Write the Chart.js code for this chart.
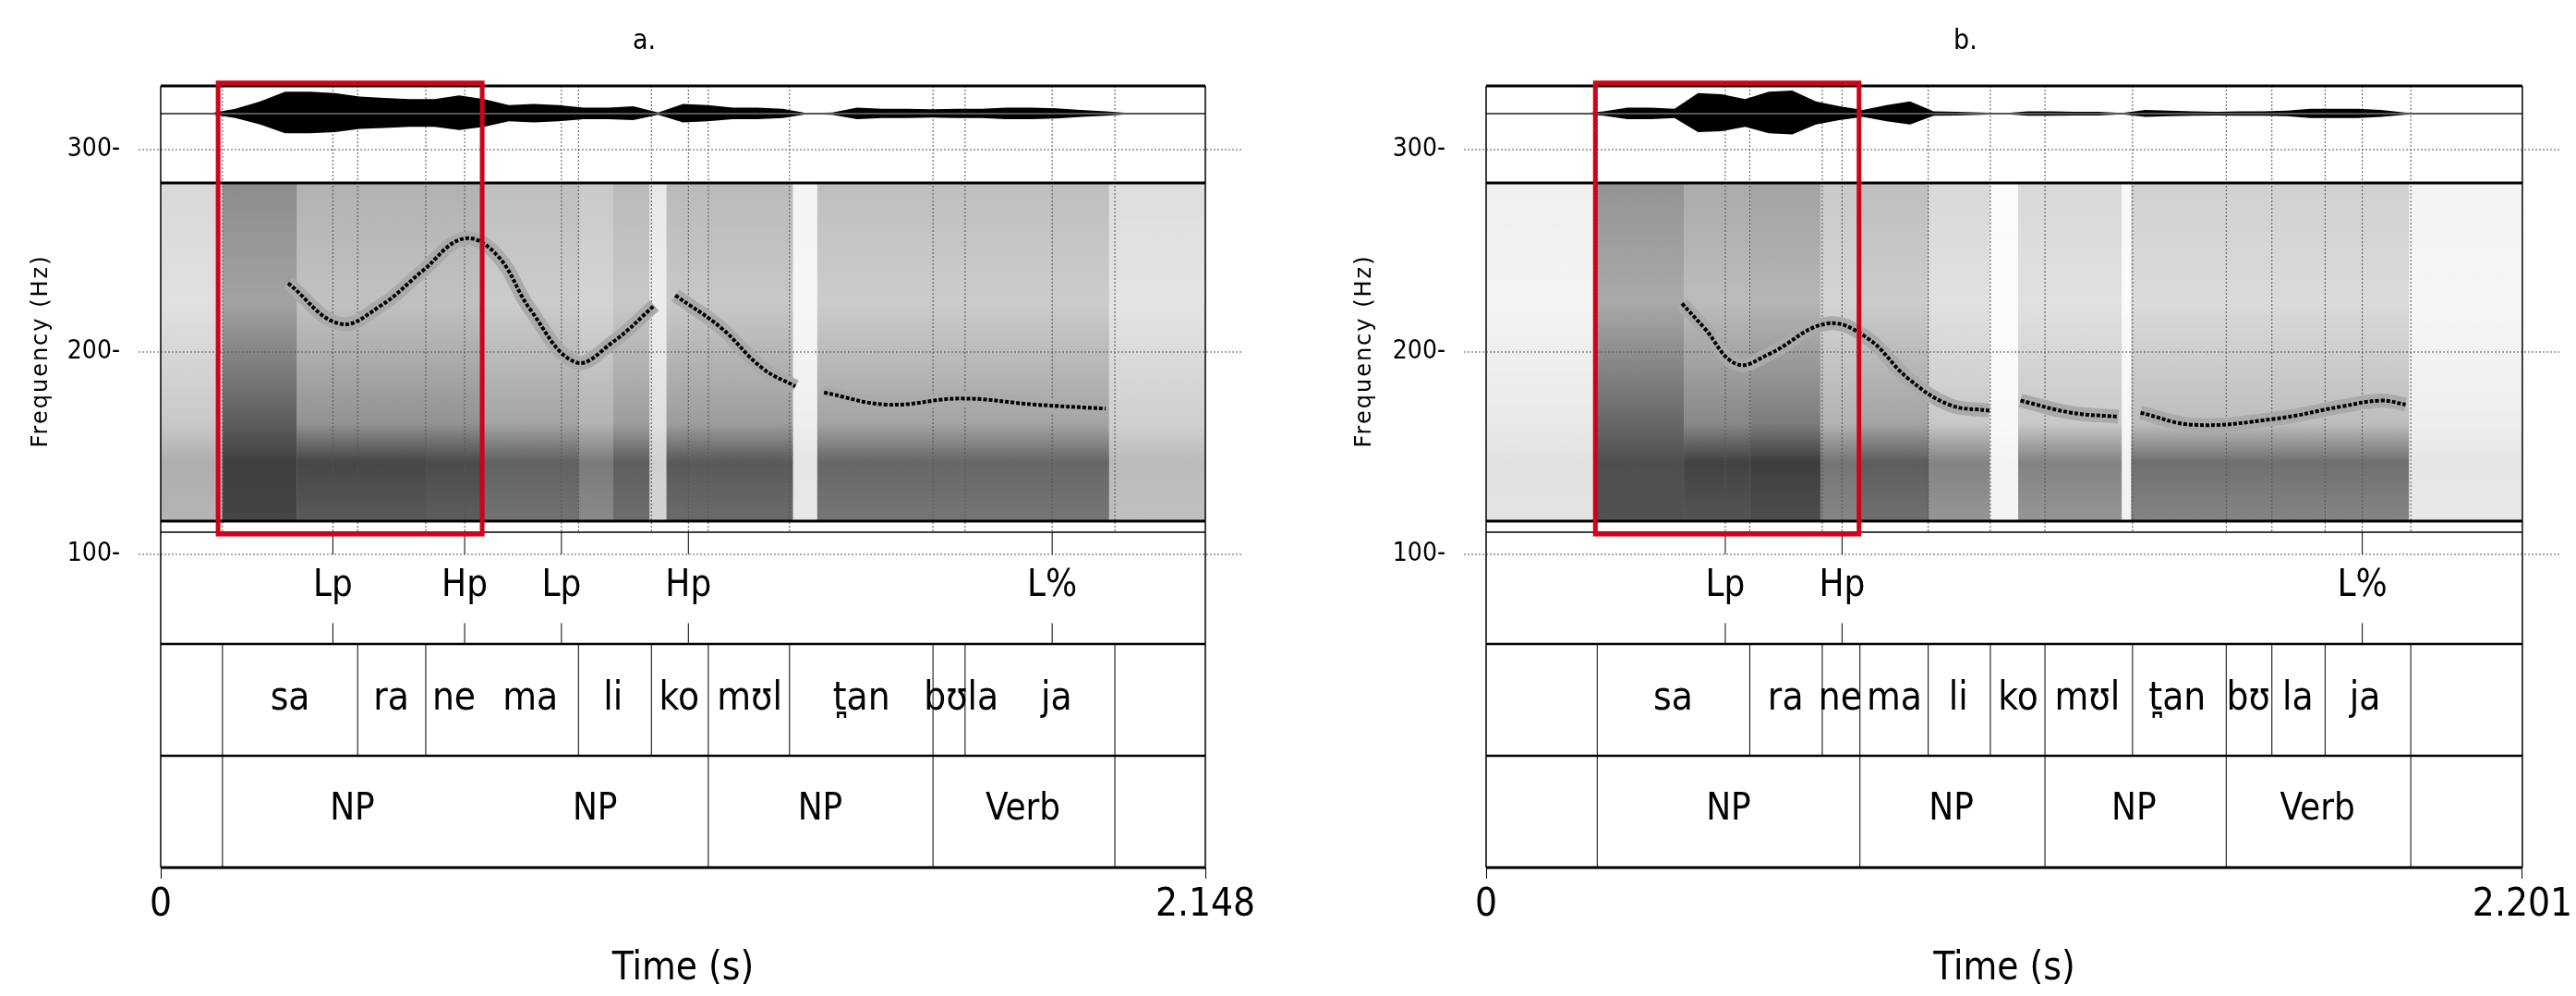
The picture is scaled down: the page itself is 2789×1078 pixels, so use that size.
<!DOCTYPE html>
<html><head><meta charset="utf-8">
<script src="https://cdn.jsdelivr.net/npm/chart.js@4"></script>
<style>body{margin:0;background:#fff;width:2789px;height:1078px;overflow:hidden}
canvas{position:absolute;top:0}</style></head><body>
<canvas id="ca" width="1394" height="1078" style="left:0"></canvas>
<canvas id="cb" width="1395" height="1078" style="left:1394px"></canvas>
<script>
const FONT="'Liberation Sans Narrow','DejaVu Sans Condensed','Liberation Sans',Arial,sans-serif";
// ---------- Panel a data ----------
const aDur=2.148;
const aPitchT=[0.262,0.368,0.453,0.538,0.623,0.691,0.760,0.853,0.930,1.015,1.020,1.058,1.152,1.237,1.305,1.320,1.364,1.493,1.645,1.799,1.943];
const aPitchHz=[234,214,223,240,256,248,221,195,205,223,null,228,212,192,183,null,180,174,177,174,172];
const aTones=["Lp","Hp","Lp","Hp","L%"];
const aToneT=[0.354,0.625,0.824,1.085,1.833];
const aSyl=["sa","ra","ne","ma","li","ko","mʊl","t̪an","bʊla","ja"];
const aSylT=[0.266,0.474,0.603,0.760,0.930,1.066,1.211,1.441,1.646,1.842];
const aSylBounds=[0.127,0.405,0.545,0.859,1.009,1.126,1.293,1.588,1.654,1.962];
const aPhr=["NP","NP","NP","Verb"];
const aPhrT=[0.394,0.893,1.356,1.773];
const aPhrBounds=[0.127,1.126,1.588,1.962];
const aWaveAmp=[0,0,0.02,0.2,0.5,0.9,0.9,0.85,0.7,0.65,0.6,0.6,0.75,0.6,0.35,0.4,0.35,0.25,0.25,0.3,0.05,0.4,0.35,0.25,0.25,0.2,0.02,0.05,0.25,0.2,0.2,0.18,0.2,0.2,0.25,0.25,0.22,0.15,0.1,0.02,0,0,0];
const aSpecT=[0,0.127,0.28,0.545,0.66,0.86,0.93,1.005,1.04,1.30,1.35,1.95,2.148];
const aSpecDark=[0.25,0.75,0.5,0.5,0.42,0.35,0.45,0.15,0.45,0.08,0.42,0.22];
const aSpecLow=[0.2,0.55,0.85,0.8,0.65,0.5,0.65,0.1,0.7,0.05,0.6,0.15];
const aBox=[0.118,0.661];
// ---------- Panel b data ----------
const bDur=2.201;
const bPitchT=[0.416,0.463,0.532,0.601,0.723,0.809,0.896,0.983,1.069,1.10,1.135,1.243,1.343,1.36,1.390,1.503,1.676,1.815,1.901,1.953];
const bPitchHz=[224,212,194,199,214,207,187,174,171,null,176,170,168,null,170,164,167,173,176,174];
const bTones=["Lp","Hp","L%"];
const bToneT=[0.508,0.756,1.861];
const bSyl=["sa","ra","ne","ma","li","ko","mʊl","t̪an","bʊ","la","ja"];
const bSylT=[0.397,0.636,0.752,0.867,1.003,1.130,1.277,1.468,1.619,1.724,1.867];
const bSylBounds=[0.236,0.560,0.714,0.794,0.939,1.071,1.187,1.373,1.572,1.669,1.782,1.964];
const bPhr=["NP","NP","NP","Verb"];
const bPhrT=[0.515,0.988,1.376,1.766];
const bPhrBounds=[0.236,0.794,1.187,1.572,1.964];
const bWaveAmp=[0,0,0,0,0,0.1,0.25,0.25,0.2,0.85,0.8,0.6,0.9,0.95,0.5,0.3,0.15,0.35,0.5,0.1,0.08,0.05,0.02,0.1,0.1,0.08,0.08,0.03,0.15,0.12,0.1,0.08,0.1,0.1,0.12,0.2,0.2,0.2,0.15,0.05,0,0,0,0,0];
const bSpecT=[0,0.23,0.42,0.56,0.71,0.79,0.94,1.07,1.13,1.35,1.37,1.96,2.201];
const bSpecDark=[0.1,0.7,0.55,0.6,0.35,0.42,0.25,0.03,0.25,0.04,0.3,0.08];
const bSpecLow=[0.05,0.4,0.85,0.85,0.55,0.7,0.55,0.03,0.55,0.03,0.65,0.05];
const bBox=[0.232,0.792];
// ---------- shared axis values (Hz units of the y scale) ----------
const yTicks=[100,200,300];
const Y={waveTop:331.5,waveMid:317.8,specTop:283.6,specBot:116.4,toneTop:111,toneBot:55.7,wordBot:0.46,phrBot:-54.8,
  toneLab:84,wordLab:28.3,phrLab:-26.5,boxTop:333,boxBot:110,waveScale:12,lowBand:165,toneMarkA:100,toneMarkB:66};

function makeChart(id,P){
  const ctxEl=document.getElementById(id);
  const pts=P.pt.map((t,i)=>({x:t,y:P.hz[i]}));
  const pts2=P.pt.map((t,i)=>({x:t,y:P.hz[i]}));
  const plug={id:'praat',
    beforeDatasetsDraw(c){
      const g=c.ctx,x=c.scales.x,y=c.scales.y,ca=c.chartArea;
      g.save();
      for(let i=0;i<P.specD.length;i++){
        const x0=x.getPixelForValue(P.specT[i]),x1=x.getPixelForValue(P.specT[i+1]);
        const yt=y.getPixelForValue(Y.specTop),yb=y.getPixelForValue(Y.specBot),yl=y.getPixelForValue(Y.lowBand);
        const gr=g.createLinearGradient(0,yt,0,yb);
        gr.addColorStop(0,`rgba(50,50,50,${P.specD[i]*0.75})`);
        gr.addColorStop(0.35,`rgba(50,50,50,${P.specD[i]*0.6})`);
        gr.addColorStop(0.7,`rgba(40,40,40,${P.specD[i]})`);
        gr.addColorStop(1,`rgba(30,30,30,${P.specD[i]})`);
        g.fillStyle=gr;g.fillRect(x0,yt,x1-x0,yb-yt);
        const gl=g.createLinearGradient(0,yl,0,yb);
        gl.addColorStop(0,`rgba(20,20,20,0)`);
        gl.addColorStop(0.4,`rgba(20,20,20,${P.specL[i]*0.7})`);
        gl.addColorStop(1,`rgba(20,20,20,${P.specL[i]*0.5})`);
        g.fillStyle=gl;g.fillRect(x0,yl,x1-x0,yb-yl);
      }
      g.setLineDash([2,2]);g.strokeStyle='#555';g.lineWidth=1;
      yTicks.forEach(v=>{const py=y.getPixelForValue(v);g.beginPath();g.moveTo(ca.left-24,py);g.lineTo(ca.right+40,py);g.stroke();});
      [...P.sb,...P.toneT].forEach(t=>{const px=x.getPixelForValue(t);g.beginPath();g.moveTo(px,y.getPixelForValue(Y.waveTop));g.lineTo(px,y.getPixelForValue(Y.toneTop));g.stroke();});
      g.setLineDash([]);
      g.fillStyle='#000';g.beginPath();
      const n=P.wave.length,step=P.dur/(n-1);
      for(let i=0;i<n;i++){g.lineTo(x.getPixelForValue(i*step),y.getPixelForValue(Y.waveMid+P.wave[i]*Y.waveScale));}
      for(let i=n-1;i>=0;i--){g.lineTo(x.getPixelForValue(i*step),y.getPixelForValue(Y.waveMid-P.wave[i]*Y.waveScale*0.9));}
      g.closePath();g.fill();
      g.lineWidth=2;g.beginPath();g.moveTo(ca.left,y.getPixelForValue(Y.waveMid));g.lineTo(ca.right,y.getPixelForValue(Y.waveMid));g.stroke();
      g.restore();
    },
    afterDatasetsDraw(c){
      const g=c.ctx,x=c.scales.x,y=c.scales.y,ca=c.chartArea;
      g.save();g.strokeStyle='#000';
      const hl=(v,w)=>{const py=y.getPixelForValue(v);g.lineWidth=w;g.beginPath();g.moveTo(ca.left,py);g.lineTo(ca.right,py);g.stroke();};
      hl(Y.waveTop,3);hl(Y.specTop,3);hl(Y.specBot,3);hl(Y.toneTop,1.5);hl(Y.toneBot,2.5);hl(Y.wordBot,2.5);hl(Y.phrBot,3);
      g.lineWidth=1.5;
      [ca.left,ca.right].forEach(px=>{g.beginPath();g.moveTo(px,y.getPixelForValue(Y.waveTop));g.lineTo(px,y.getPixelForValue(Y.phrBot));g.stroke();});
      g.lineWidth=1;
      P.sb.forEach(t=>{const px=x.getPixelForValue(t);g.beginPath();g.moveTo(px,y.getPixelForValue(Y.toneBot));g.lineTo(px,y.getPixelForValue(Y.wordBot));g.stroke();});
      P.pb.forEach(t=>{const px=x.getPixelForValue(t);g.beginPath();g.moveTo(px,y.getPixelForValue(Y.wordBot));g.lineTo(px,y.getPixelForValue(Y.phrBot));g.stroke();});
      P.toneT.forEach(t=>{const px=x.getPixelForValue(t);g.beginPath();g.moveTo(px,y.getPixelForValue(Y.toneTop));g.lineTo(px,y.getPixelForValue(Y.toneMarkA));
        g.moveTo(px,y.getPixelForValue(Y.toneMarkB));g.lineTo(px,y.getPixelForValue(Y.toneBot));g.stroke();});
      g.fillStyle='#000';g.textAlign='center';g.textBaseline='middle';g.font='40px '+FONT;
      P.tones.forEach((s,i)=>g.fillText(s,x.getPixelForValue(P.toneT[i]),y.getPixelForValue(Y.toneLab)));
      g.font='42px '+FONT;
      P.syl.forEach((s,i)=>g.fillText(s,x.getPixelForValue(P.sylT[i]),y.getPixelForValue(Y.wordLab)));
      g.font='40px '+FONT;
      P.phr.forEach((s,i)=>g.fillText(s,x.getPixelForValue(P.phrT[i]),y.getPixelForValue(Y.phrLab)));
      g.strokeStyle='#d0021b';g.lineWidth=5;
      const bx0=x.getPixelForValue(P.box[0]),bx1=x.getPixelForValue(P.box[1]),by0=y.getPixelForValue(Y.boxTop),by1=y.getPixelForValue(Y.boxBot);
      g.strokeRect(bx0,by0,bx1-bx0,by1-by0);
      g.fillStyle='#000';g.font='30px '+FONT;g.fillText(P.title,(ca.left+ca.right)/2-42,45);
      g.save();g.translate(P.ytx,y.getPixelForValue(200)-1);g.rotate(-Math.PI/2);g.font='24px "DejaVu Sans",sans-serif';
      try{g.letterSpacing='2px';}catch(e){}
      g.fillText('Frequency (Hz)',0,0);g.restore();
      g.restore();
    }};
  return new Chart(ctxEl,{type:'line',
    data:{datasets:[
      {data:pts,borderColor:'#aaaaaa',borderWidth:15,pointRadius:0,spanGaps:false,tension:0.4,order:2},
      {data:pts2,borderColor:'#000',borderWidth:4,borderDash:[4,2],pointRadius:0,spanGaps:false,tension:0.4,order:1}]},
    options:{responsive:false,animation:false,devicePixelRatio:1,
      layout:{padding:{top:93,right:P.padR,left:0,bottom:0}},
      plugins:{legend:{display:false},tooltip:{enabled:false}},
      scales:{
        x:{type:'linear',min:0,max:P.dur,afterBuildTicks:s=>{s.ticks=[{value:0},{value:P.dur}];},
          afterFit:s=>{s.height=139;},border:{display:false},
          grid:{drawOnChartArea:false,drawTicks:true,tickLength:12,color:'#000',lineWidth:1},
          ticks:{font:{family:FONT,size:42},color:'#000',maxRotation:0,padding:4,callback:v=>v===0?'0':P.dur.toFixed(3)},
          title:{display:true,text:'Time (s)',font:{family:FONT,size:42},color:'#000',padding:{top:0}}},
        y:{type:'linear',min:Y.phrBot,max:Y.waveTop,afterBuildTicks:s=>{s.ticks=yTicks.map(v=>({value:v}));},
          afterFit:s=>{s.width=P.padL;},border:{display:false},grid:{display:false},
          ticks:{font:{family:FONT,size:28},color:'#000',padding:36,callback:v=>v+'-'}}}},
    plugins:[plug]});
}
makeChart('ca',{title:'a.',dur:aDur,pt:aPitchT,hz:aPitchHz,tones:aTones,toneT:aToneT,syl:aSyl,sylT:aSylT,sb:aSylBounds,phr:aPhr,phrT:aPhrT,pb:aPhrBounds,
  wave:aWaveAmp,specT:aSpecT,specD:aSpecDark,specL:aSpecLow,box:aBox,padL:174,padR:89,ytx:45});
makeChart('cb',{title:'b.',dur:bDur,pt:bPitchT,hz:bPitchHz,tones:bTones,toneT:bToneT,syl:bSyl,sylT:bSylT,sb:bSylBounds,phr:bPhr,phrT:bPhrT,pb:bPhrBounds,
  wave:bWaveAmp,specT:bSpecT,specD:bSpecDark,specL:bSpecLow,box:bBox,padL:215,padR:43,ytx:84});
</script></body></html>
